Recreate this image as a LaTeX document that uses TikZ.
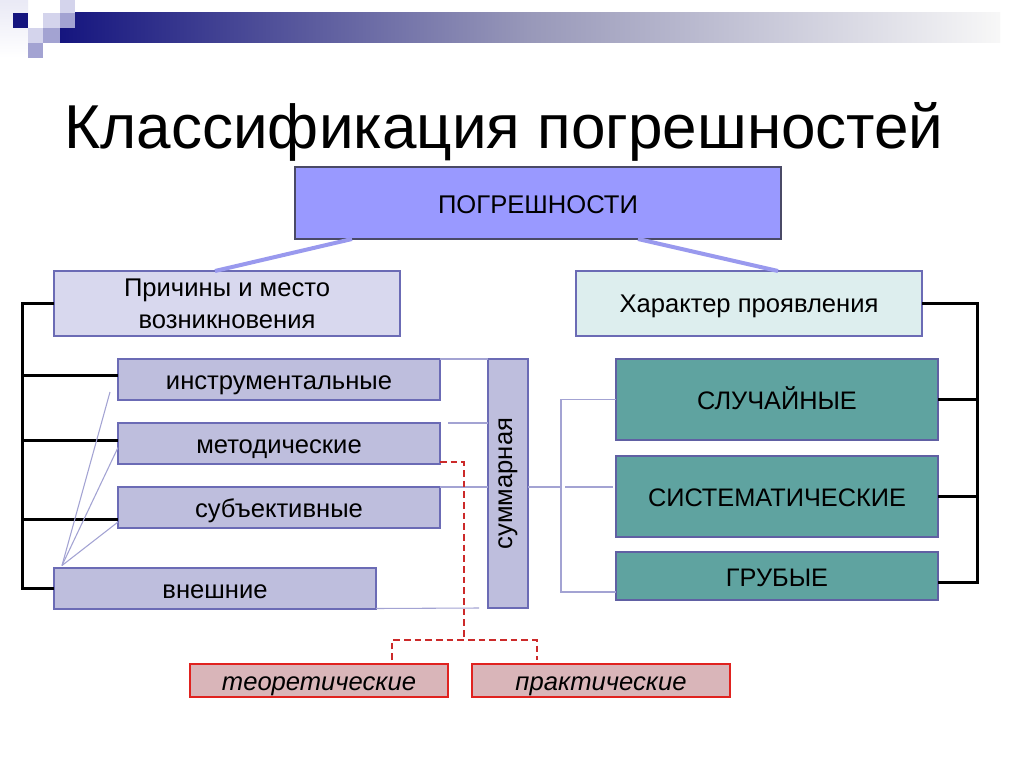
\documentclass[tikz,border=0pt]{standalone}
\usepackage{fontspec}
\setmainfont{Liberation Sans}
\usetikzlibrary{positioning,calc}
\definecolor{HeadNavy}{HTML}{15157F}
\definecolor{HeadLight}{HTML}{D4D4EC}
\definecolor{HeadMid}{HTML}{A3A3D2}
\definecolor{TopFill}{HTML}{9999FF}
\definecolor{TopRule}{HTML}{4A4A66}
\definecolor{LavFill}{HTML}{BEBEDD}
\definecolor{LavLight}{HTML}{D8D8EE}
\definecolor{LavRule}{HTML}{6B6BB5}
\definecolor{MintFill}{HTML}{DDEEEE}
\definecolor{TealFill}{HTML}{5FA3A0}
\definecolor{PinkFill}{HTML}{D9B5B9}
\definecolor{RedRule}{HTML}{E0221F}
\definecolor{LinkLav}{HTML}{9999EE}
\definecolor{ThinLav}{HTML}{A3A3D3}
\definecolor{DashRed}{HTML}{CC2A2A}

\begin{document}
\begin{tikzpicture}[x=0.75pt, y=-0.75pt, node distance=17.25pt,
  base/.style={draw=LavRule, line width=1.5pt, inner sep=0pt, outer sep=0pt,
               align=center, text=black, font=\fontsize{19.2}{24}\selectfont},
  box/.style={base, text height=15pt, text depth=0pt},
  lav/.style={box, fill=LavFill, minimum width=241.5pt, minimum height=30.75pt},
  head/.style={base, text depth=0pt, fill=LavLight, minimum width=259.5pt,
               minimum height=48.75pt},
  teal/.style={box, fill=TealFill, draw=LavRule!90!black, minimum width=241.5pt,
               minimum height=60.75pt, font=\fontsize{19}{22}\selectfont},
  pink/.style={box, fill=PinkFill, draw=RedRule, minimum width=193.5pt,
               minimum height=24.75pt, font=\fontsize{19.2}{22}\selectfont\itshape},
  link/.style={LinkLav, line width=3pt},
  thin/.style={ThinLav, line width=0.8pt},
  bracket/.style={black, line width=2.25pt},
  reddash/.style={DashRed, line width=1.5pt, dash pattern=on 5pt off 3pt}]

  % header strip
  \fill[white] (0,0) rectangle (1024,767);
  \useasboundingbox (0,0) rectangle (1024,767);
  \shade[left color=HeadNavy, right color=white!94!gray, middle color=HeadMid!70!gray]
    (60,13) rectangle (1000,43);
  \shade[top color=HeadLight!50, bottom color=white] (0,0) rectangle (28,58);
  \fill[HeadNavy] (13,13) rectangle (28,28);
  \fill[HeadLight] (28,28) rectangle (43,43);
  \fill[HeadMid] (28,43) rectangle (43,58);
  \fill[HeadLight] (43,13) rectangle (60,28);
  \fill[HeadMid] (43,28) rectangle (60,43);
  \fill[HeadLight] (60,0) rectangle (75,13);
  \fill[HeadMid] (60,13) rectangle (75,28);

  \node[anchor=base, font=\fontsize{46.5}{54}\selectfont] (title) at (504,148)
    {Классификация погрешностей};

  \node[box, fill=TopFill, draw=TopRule, line width=1pt, minimum width=364.5pt,
        minimum height=54pt] (pogr) at (538,203) {ПОГРЕШНОСТИ};
  \node[head] (prich) at (227,303.5) {Причины и место\\возникновения};
  \node[head, fill=MintFill] (harak) at (749,303.5) {Характер проявления};

  \node[lav] (instr) at (279,379.5) {инструментальные};
  \node[lav, below=of instr] (metod) {методические};
  \node[lav, below=of metod] (subj) {субъективные};
  \node[lav] (vnesh) at (215,588) {внешние};
  \node[base, fill=LavFill, minimum width=30pt, minimum height=186.75pt] (summ)
    at (508,483.5) {\rotatebox{90}{суммарная}};

  \node[teal] (sluch) at (777,399.5) {СЛУЧАЙНЫЕ};
  \node[teal, below=12pt of sluch] (sist) {СИСТЕМАТИЧЕСКИЕ};
  \node[teal, minimum height=36pt, below=11.25pt of sist] (grub) {ГРУБЫЕ};

  \node[pink] (teor) at (319,680.5) {теоретические};
  \node[pink, right=18pt of teor] (prakt) {практические};

  \draw[link] ($(pogr.south west)+(57,0)$) -- ($(prich.north west)+(161,0)$);
  \draw[link] ($(pogr.south east)+(-143,0)$) -- ($(harak.north east)+(-144,0)$);

  \coordinate (ltop) at ($(prich.west)+(-32,0)$);
  \coordinate (lbot) at (ltop |- vnesh.west);
  \draw[bracket] (prich.west) -- (ltop) -- (lbot) -- (vnesh.west);
  \draw[bracket] (ltop |- instr.west) ++(0,-4) -- ($(instr.west)+(0,-4)$);
  \draw[bracket] (ltop |- metod.west) ++(0,-3) -- ($(metod.west)+(0,-3)$);
  \draw[bracket] (ltop |- subj.west) ++(0,12) -- ($(subj.west)+(0,12)$);

  \coordinate (rtop) at ($(harak.east)+(55,0)$);
  \coordinate (rbot) at ($(rtop |- grub.east)+(0,6)$);
  \draw[bracket] (harak.east) -- (rtop) -- (rbot) -- ($(grub.east)+(0,6)$);
  \draw[bracket] (rtop |- sluch.east) -- (sluch.east);
  \draw[bracket] (rtop |- sist.east) -- (sist.east);

  \draw[thin] (instr.north east) -- (summ.north west);
  \draw[thin] ($(metod.north east)+(8,0)$) -- (summ.west |- metod.north);
  \draw[thin] (subj.north east) -- (summ.west |- subj.north);
  \draw[thin] (vnesh.south east) -- ($(summ.south west)+(-9,0)$);

  \coordinate (fan) at ($(vnesh.north west)+(8,-2)$);
  \draw[thin] (fan) -- ($(instr.south west)+(-8,-8)$);
  \draw[thin] (fan) -- ($(metod.west)+(0,4)$);
  \draw[thin] (fan) -- ($(subj.south west)+(0,-6)$);

  \coordinate (mtop) at ($(sluch.west)+(-55,0)$);
  \coordinate (mbot) at ($(grub.south west)+(-55,-8)$);
  \draw[thin] (sluch.west) -- (mtop) -- (mbot) -- ($(grub.south west)+(0,-8)$);
  \draw[thin] (summ.east |- subj.north) -- (mtop |- subj.north);
  \draw[thin] ($(mtop |- subj.north)+(4,0)$) -- ($(sist.west |- subj.north)+(-3,0)$);

  \coordinate (rd) at (464,640);
  \draw[reddash] ($(metod.south east)+(0,-2)$) -| (rd);
  \draw[reddash] ($(teor.north east)+(-56,-4)$) |- (rd) -| ($(prakt.north west)+(65,-4)$);
\end{tikzpicture}
\end{document}
